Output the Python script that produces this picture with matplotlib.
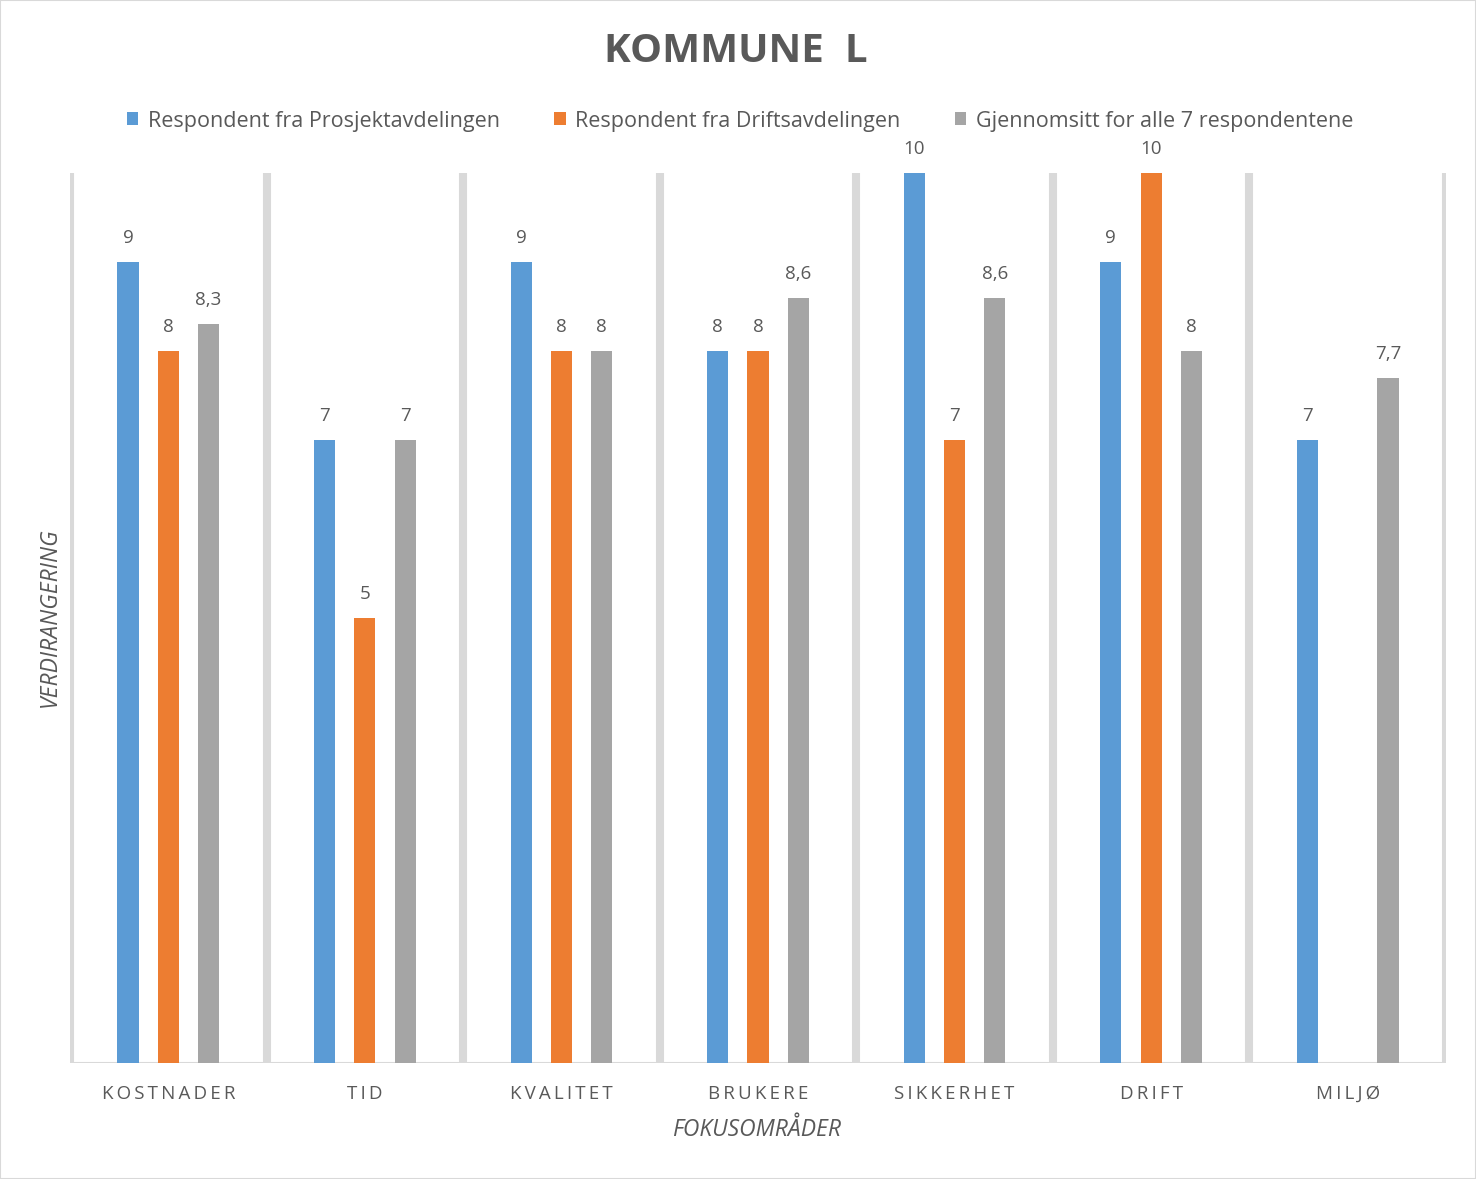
import matplotlib
matplotlib.use("Agg")
import matplotlib.pyplot as plt
import numpy as np
from matplotlib.patches import Rectangle, Patch

categories = ["KOSTNADER", "TID", "KVALITET", "BRUKERE", "SIKKERHET", "DRIFT", "MILJØ"]
series_names = ["Respondent fra Prosjektavdelingen",
                "Respondent fra Driftsavdelingen",
                "Gjennomsitt for alle 7 respondentene"]
prosjekt = [9, 7, 9, 8, 10, 9, 7]
drift = [8, 5, 8, 8, 7, 10, None]
snitt = [8.3, 7, 8, 8.6, 8.6, 8, 7.7]
colors = ["#5B9BD5", "#ED7D31", "#A5A5A5"]

plt.rcParams['font.family'] = ['Open Sans', 'DejaVu Sans']
TXT = "#595959"

fig = plt.figure(figsize=(14.76, 11.79), dpi=100)
ax = fig.add_axes([70/1476, 1-1063/1179, (1446-70)/1476, (1063-173)/1179])

x = np.arange(len(categories))
offsets = [-0.205, 0.0, 0.205]
width = 0.107
for s, (vals, col) in enumerate(zip([prosjekt, drift, snitt], colors)):
    xs = [xi + offsets[s] for xi, v in zip(x, vals) if v is not None]
    vs = [v for v in vals if v is not None]
    ax.bar(xs, vs, width=width, color=col, zorder=3, label=series_names[s])
    for xx, v in zip(xs, vs):
        lab = (f"{v:g}").replace(".", ",")
        ax.annotate(lab, (xx, v), xytext=(0, 19*0.72), textcoords="offset points",
                    ha="center", va="baseline", color=TXT, fontsize=13.5,
                    annotation_clip=False)

# vertical separators
for b in np.arange(-0.5, len(categories) + 0.5, 1):
    ax.plot([b, b], [0, 10], color="#D9D9D9", lw=5.8, zorder=1, solid_capstyle="butt")
ax.plot([-0.5, len(categories) - 0.5], [0, 0], color="#D9D9D9", lw=2.2, zorder=2,
        solid_capstyle="butt")

ax.set_xlim(-0.5, len(categories) - 0.5)
ax.set_ylim(0, 10)
for sp in ax.spines.values():
    sp.set_visible(False)
ax.set_yticks([])
ax.set_xticks(x)
ax.set_xticklabels(["\u2009".join(list(c)) for c in categories], color=TXT, fontsize=13.5)
ax.tick_params(axis="x", length=0, pad=16)

fig.text(50/1476, 1-617/1179, "VERDIRANGERING", rotation=90, ha="center", va="center",
         color=TXT, fontsize=16.5, style="italic")
fig.text(757/1476, 1-1130/1179, "FOKUSOMRÅDER", ha="center", va="center",
         color=TXT, fontsize=16.5, style="italic")

fig.text(736/1476, 1-52/1179, "KOMMUNE  L", ha="center", va="center",
         color=TXT, fontsize=29, fontweight="bold")

handles = [Patch(facecolor=c, edgecolor="none") for c in colors]
fig.legend(handles, series_names, loc="center", bbox_to_anchor=(740/1476, 1-121/1179),
           ncol=3, frameon=False, fontsize=15.5, labelcolor=TXT,
           handlelength=0.55, handleheight=0.55, handletextpad=0.45, columnspacing=2.5)

fig.patches.append(Rectangle((0, 0), 1, 1, transform=fig.transFigure, fill=False,
                             edgecolor="#D9D9D9", lw=1.5))

fig.savefig("out.png", dpi=100, facecolor="white")
